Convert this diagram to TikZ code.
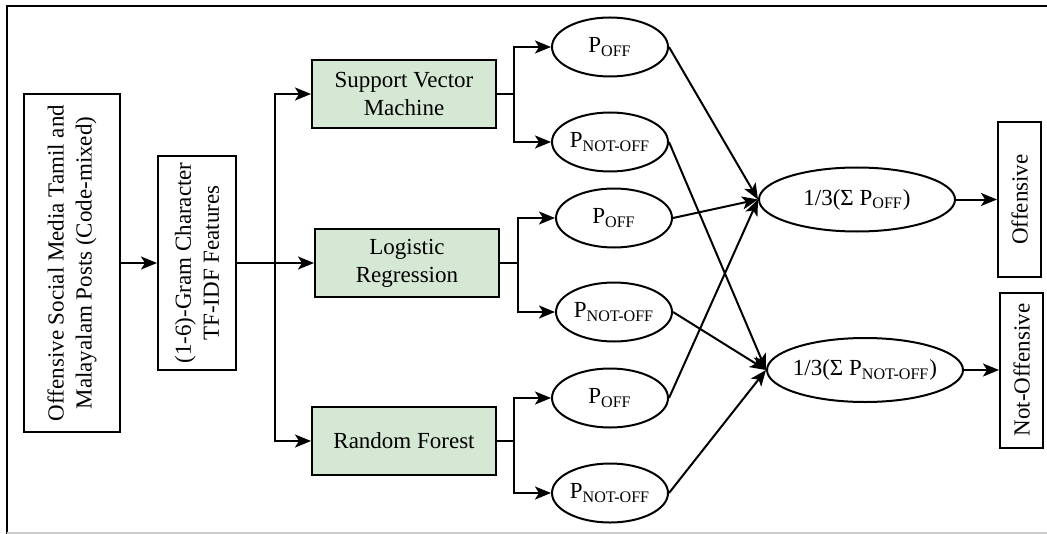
\documentclass[tikz,border=0pt]{standalone}
\usepackage{fontspec}
\setmainfont{Liberation Serif}
\usetikzlibrary{arrows.meta, positioning, shapes.geometric}

\definecolor{modelgreen}{HTML}{D5E8D4}

\tikzset{
    every node/.style={font=\rmfamily\fontsize{11.5}{14}\selectfont},
    tallbox/.style={draw, rotate=90, align=center, line width=1pt},
    model/.style={draw, fill=modelgreen, align=center, minimum width=92pt, minimum height=34pt, line width=1pt},
    prob/.style={draw, ellipse, minimum width=58pt, minimum height=29.5pt, line width=1pt},
    vote/.style={draw, ellipse, minimum width=98pt, minimum height=32pt, line width=1pt},
    arr/.style={-{Stealth[length=8pt,width=6.5pt,inset=2pt]}, line width=1pt},
}

\begin{document}
\begin{tikzpicture}[x=0.5pt, y=-0.5pt]
                    \useasboundingbox (0,0) rectangle (1047,534);
                    % Frame
                    \draw[line width=1pt] (1047,6) -- (6.5,6) -- (6.5,534);
                    \draw[gray!40, line width=1pt] (6.5,532.5) -- (1047,532.5);
                    % Input and features
                    \node[tallbox, minimum width=168.5pt, minimum height=48pt] (posts) at (72,263) {Offensive Social Media Tamil and\\Malayalam Posts (Code-mixed)};
                    \node[tallbox, minimum width=105.5pt, minimum height=39pt] (feats) at (197,263) {(1-6)-Gram Character\\TF-IDF Features};
                    % Classifiers
                    \node[model] (svm) at (404,94) {Support Vector\\Machine};
                    \node[model] (lr) at (407,263) {Logistic\\Regression};
                    \node[model] (rf) at (404,441) {Random Forest};
                    % Class probabilities
                    \node[prob, label=center:P\textsubscript{OFF}] (poffa) at (610,47) {};
                    \node[prob, label=center:P\textsubscript{NOT-OFF}] (pnota) at (610,142) {};
                    \node[prob, label=center:P\textsubscript{OFF}] (poffb) at (614,218) {};
                    \node[prob, label=center:P\textsubscript{NOT-OFF}] (pnotb) at (614,312) {};
                    \node[prob, label=center:P\textsubscript{OFF}] (poffc) at (610,398) {};
                    \node[prob, label=center:P\textsubscript{NOT-OFF}] (pnotc) at (610,493) {};
                    % Averaging
                    \node[vote, label=center:1/3(Σ P\textsubscript{OFF})] (avgoff) at (857,199.5) {};
                    \node[vote, label=center:1/3(Σ P\textsubscript{NOT-OFF})] (avgnot) at (865,370) {};
                    % Outputs
                    \node[tallbox, minimum width=77pt, minimum height=21.5pt] (off) at (1019.5,199.5) {Offensive};
                    \node[tallbox, minimum width=77.5pt, minimum height=21.5pt] (notoff) at (1021.5,370) {Not-Offensive};
                    % Branch points
                    \coordinate (bus) at (275,263);
                    \coordinate (svmfork) at (514,94);
                    \coordinate (lrfork) at (518,263);
                    \coordinate (rffork) at (514,441);
                    % Connectors
                    \draw[arr] (posts) -- (feats);
                    \draw[line width=1pt] (feats) -- (bus);
                    \draw[arr] (bus) |- (svm);
                    \draw[arr] (bus) -- (lr);
                    \draw[arr] (bus) |- (rf);
                    \draw[line width=1pt] (svm) -- (svmfork);
                    \draw[arr] (svmfork) |- (poffa);
                    \draw[arr] (svmfork) |- (pnota);
                    \draw[line width=1pt] (lr) -- (lrfork);
                    \draw[arr] (lrfork) |- (poffb);
                    \draw[arr] (lrfork) |- (pnotb);
                    \draw[line width=1pt] (rf) -- (rffork);
                    \draw[arr] (rffork) |- (poffc);
                    \draw[arr] (rffork) |- (pnotc);
                    \draw[arr] (poffa.east) -- (avgoff.west);
                    \draw[arr] (poffb.east) -- (avgoff.west);
                    \draw[arr] (poffc.east) -- (avgoff.west);
                    \draw[arr] (pnota.east) -- (avgnot.west);
                    \draw[arr] (pnotb.east) -- (avgnot.west);
                    \draw[arr] (pnotc.east) -- (avgnot.west);
                    \draw[arr] (avgoff) -- (off);
                    \draw[arr] (avgnot) -- (notoff);
                \end{tikzpicture}
\end{document}
